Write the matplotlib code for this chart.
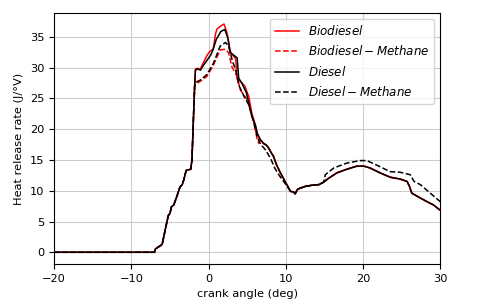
import numpy as np
import matplotlib
matplotlib.use("Agg")
import matplotlib.pyplot as plt

plt.rcParams['font.size'] = 8.2

# Shared ignition / rise segment (crank angle deg, heat release rate)
rise_x = [-20, -7.0, -6.9, -6.7, -6.2, -6.0, -5.8, -5.5, -5.2, -5.0, -4.8, -4.5,
          -4.1, -3.7, -3.4, -3.2, -2.9, -2.3, -2.15, -1.95, -1.8]
rise_y = [0, 0, 0.5, 0.7, 1.1, 1.3, 2.5, 4.3, 6.0, 6.3, 7.4, 7.7,
          9.1, 10.6, 11.0, 11.8, 13.3, 13.5, 15.0, 22.0, 27.0]

# Shared late-combustion tail (Biodiesel, Diesel, Biodiesel-Methane)
tail_x = [6.7, 7.1, 7.5, 7.8, 8.1, 8.4, 8.8, 9.3, 9.9, 10.3, 10.6, 11.0, 11.2,
          11.5, 11.8, 12.5, 13.4, 14.3, 14.9, 15.5, 16.6, 17.9, 19.2, 20.1,
          20.9, 22.2, 23.5, 24.8, 25.7, 26.0, 26.3, 27.0, 28.3, 29.1, 29.8, 30.0]
tail_y = [18.3, 17.7, 17.4, 16.9, 16.2, 15.6, 14.2, 12.9, 11.5, 10.6, 9.9, 9.8, 9.5,
          10.2, 10.4, 10.7, 10.9, 11.0, 11.4, 12.0, 12.9, 13.5, 14.0, 14.0,
          13.7, 12.9, 12.2, 11.9, 11.5, 10.7, 9.6, 9.1, 8.2, 7.7, 7.0, 6.8]

bio_x = [-1.7, -1.4, -1.1, -0.8, -0.6, -0.2, 0.2, 0.6, 0.9, 1.1, 1.6, 2.0, 2.4,
         2.8, 3.2, 3.5, 3.7, 4.1, 4.7, 5.2, 5.6, 6.05, 6.3]
bio_y = [29.8, 29.9, 29.7, 30.5, 31.0, 32.0, 32.7, 33.0, 35.5, 36.3, 36.8, 37.1, 35.6,
         32.7, 31.9, 31.5, 28.2, 27.8, 27.0, 25.3, 22.6, 20.7, 19.3]

diesel_x = [-1.7, -1.4, -1.05, -0.6, 0.3, 0.6, 1.0, 1.6, 2.1, 2.5, 2.8, 3.2, 3.7,
            3.9, 4.3, 4.9, 5.6, 6.05, 6.3]
diesel_y = [29.6, 29.8, 29.6, 30.5, 32.1, 33.0, 34.6, 35.9, 36.2, 34.8, 32.4, 32.1, 31.6,
            28.3, 27.5, 25.9, 22.1, 20.7, 19.3]

biometh_x = [-1.7, -1.3, -1.06, -0.2, 0.66, 1.5, 2.2, 2.6, 3.0, 3.7, 4.1, 5.0, 5.8, 6.3, 6.5]
biometh_y = [27.3, 27.6, 27.8, 28.6, 30.5, 32.9, 33.0, 32.4, 30.2, 28.6, 26.4, 24.8, 21.5, 18.3, 17.7]

dmeth_x = [-1.7, -1.06, -0.2, 0.66, 1.5, 2.2, 2.6, 3.1, 3.5, 3.9, 4.6, 5.2, 5.8, 6.3,
           6.7, 7.4, 8.0, 8.6, 9.2, 9.9, 10.6, 11.0, 11.2, 11.5, 11.8, 12.5, 13.4,
           14.3, 14.9, 15.1, 16.2, 17.9, 19.6, 20.5, 22.2, 23.5, 24.8, 26.1, 26.6,
           27.4, 28.7, 30.0]
dmeth_y = [27.6, 28.0, 28.9, 30.8, 33.5, 34.1, 33.5, 31.0, 29.7, 27.2, 25.3, 24.0, 21.3, 18.8,
           17.6, 16.6, 15.3, 13.6, 12.4, 11.2, 9.9, 9.8, 9.5, 10.2, 10.4, 10.7, 10.9,
           11.0, 11.4, 12.6, 13.7, 14.5, 14.9, 14.9, 13.9, 13.1, 13.0, 12.6, 11.5,
           11.0, 9.6, 8.2]

labels = ['$Biodiesel$', '$Biodiesel-Methane$', '$Diesel$', '$Diesel-Methane$']

fig = plt.figure(figsize=(4.8, 3.08), dpi=100)
ax = fig.add_axes([0.1125, 0.143, 0.805, 0.815])

ax.plot(rise_x + bio_x + tail_x, rise_y + bio_y + tail_y, color='red', lw=1.1, label=labels[0])
ax.plot(rise_x + biometh_x + tail_x, rise_y + biometh_y + tail_y, color='red', lw=1.1,
        ls='--', label=labels[1])
ax.plot(rise_x + diesel_x + tail_x, rise_y + diesel_y + tail_y, color='black', lw=1.1, label=labels[2])
ax.plot(rise_x + dmeth_x, rise_y + dmeth_y, color='black', lw=1.1, ls='--', label=labels[3])

ax.set_xlim(-20, 30)
ax.set_ylim(-1.9, 38.9)
ax.set_xticks([-20, -10, 0, 10, 20, 30])
ax.set_yticks([0, 5, 10, 15, 20, 25, 30, 35])
ax.grid(True, color='#cccccc', lw=0.8)
ax.set_xlabel('crank angle (deg)')
ax.set_ylabel('Heat release rate (J/°V)')
ax.legend(loc='upper right', fontsize=8.6, labelspacing=0.55)

fig.savefig('out.png', dpi=100)
